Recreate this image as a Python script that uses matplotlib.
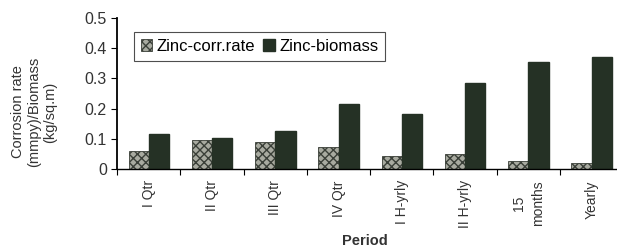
import matplotlib.pyplot as plt
import numpy as np

plt.rcParams['font.family'] = ['Liberation Sans', 'DejaVu Sans']

periods = ["I Qtr", "II Qtr", "III Qtr", "IV Qtr", "I H-yrly", "II H-yrly",
           "15\nmonths", "Yearly"]
zinc_corr = [0.06, 0.097, 0.09, 0.072, 0.042, 0.05, 0.027, 0.02]
zinc_bio = [0.117, 0.103, 0.127, 0.215, 0.183, 0.285, 0.353, 0.37]

fig = plt.figure(figsize=(6.17, 2.48), dpi=100)
ax = fig.add_axes([0.19, 0.318, 0.82, 0.61])

x = np.arange(len(periods))
w = 0.32
ax.bar(x - w / 2, zinc_corr, w, color='#a8aaa0', edgecolor='#3a3f38',
       hatch='xxxx', linewidth=0.6, label='Zinc-corr.rate')
ax.bar(x + w / 2, zinc_bio, w, color='#253125', edgecolor='#253125',
       label='Zinc-biomass')

ax.set_xlim(-0.5, len(periods) - 0.5)
ax.set_ylim(0, 0.5)
ax.set_yticks([0, 0.1, 0.2, 0.3, 0.4, 0.5])
ax.set_yticklabels(['0', '0.1', '0.2', '0.3', '0.4', '0.5'], fontsize=11.5,
                   color='#333333')

ax.set_xticks(np.arange(len(periods) + 1) - 0.5)
ax.set_xticklabels([])
ax.set_xticks(x, minor=True)
ax.set_xticklabels(periods, minor=True, rotation=90, fontsize=10,
                   color='#333333', linespacing=1.5)
ax.tick_params(axis='x', which='minor', length=0, pad=8)
ax.tick_params(axis='x', which='major', length=4, direction='out')
ax.tick_params(axis='y', length=4, direction='out')

for s in ['top', 'right']:
    ax.spines[s].set_visible(False)
ax.spines['left'].set_linewidth(1.3)
ax.spines['bottom'].set_linewidth(1.0)

ax.text(0.49, -0.477, 'Period', transform=ax.transAxes, fontsize=10.5,
        fontweight='bold', color='#333333', ha='center', va='center')
fig.text(34 / 617, 1 - 112 / 248, 'Corrosion rate\n(mmpy)/Biomass\n(kg/sq.m)',
         rotation=90, fontsize=10.5, color='#333333', ha='center',
         va='center', multialignment='center')

leg = ax.legend(loc='upper left', bbox_to_anchor=(0.033, 0.905), ncol=2,
                fontsize=12, frameon=True, fancybox=False, handlelength=0.7,
                handleheight=0.7, handletextpad=0.25, columnspacing=0.5,
                borderpad=0.4, borderaxespad=0)
leg.get_frame().set_edgecolor('#222222')
leg.get_frame().set_linewidth(0.8)

fig.savefig('out.png', dpi=100)
